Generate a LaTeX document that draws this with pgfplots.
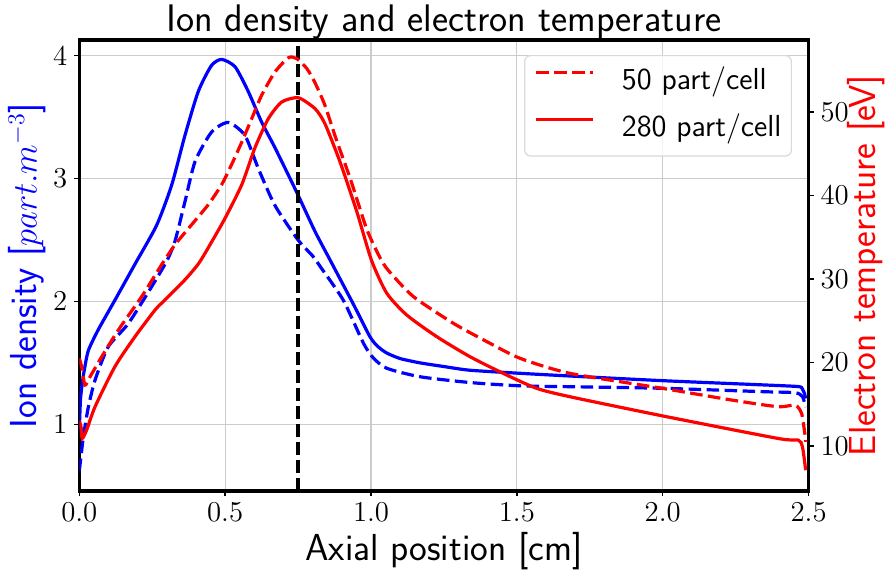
\documentclass[border=0pt]{standalone}
\usepackage{pgfplots}
\pgfplotsset{compat=1.18}
\begin{document}
\begin{tikzpicture}
\pgfplotsset{
 common/.style={
  scale only axis, width=364.65pt, height=225.5pt,
  at={(0,0)}, anchor=south west,
  xmin=0, xmax=2.5,
  tick align=outside, major tick length=2.5pt,
  tick style={black, line width=0.7pt},
  tick label style={font=\fontsize{14.7}{16}\selectfont},
  label style={font=\sffamily\fontsize{18.8}{21}\selectfont},
  axis line style={line width=1.6pt},
  every axis plot/.append style={line width=1.6pt, smooth, tension=0.4},
  mydash/.style={dash pattern=on 6.3pt off 2.7pt},
 }
}
\begin{axis}[common,
  ymin=0.457, ymax=4.128,
  ytick={1,2,3,4}, xtick={0,0.5,1,1.5,2,2.5},
  xtick pos=left, ytick pos=left,
  xticklabel style={/pgf/number format/.cd, fixed, fixed zerofill, precision=1},
  grid=major, grid style={black!20, line width=0.6pt},
  title={Ion density and electron temperature},
  title style={at={(rel axis cs:0.5,1)}, anchor=base, yshift=-1.8pt, inner sep=0pt, font=\sffamily\fontsize{19.2}{21}\selectfont},
  xlabel={Axial position [cm]},
  xlabel style={at={(rel axis cs:0.5,0)}, anchor=base, yshift=-34.5pt, inner sep=0pt},
  ylabel={Ion density [$part.m^{-3}$]},
  ylabel style={at={(rel axis cs:0,0.5)}, anchor=center, yshift=26pt, color=blue, inner sep=0pt},
]
\addplot[blue, no markers] coordinates {
(0.000,0.95) (0.004,1.20) (0.010,1.33) (0.017,1.44) (0.031,1.60) (0.065,1.77) (0.122,2.01) (0.190,2.30) (0.265,2.62) (0.317,2.95) (0.362,3.35) (0.408,3.71) (0.453,3.92) (0.488,3.97) (0.534,3.91) (0.579,3.71) (0.625,3.46) (0.671,3.25) (0.745,2.89) (0.808,2.57) (0.859,2.34) (0.939,1.98) (0.997,1.71) (1.025,1.63) (1.054,1.58) (1.100,1.535) (1.168,1.50) (1.250,1.47) (1.339,1.44) (1.511,1.415) (1.682,1.393) (2.000,1.355) (2.351,1.32) (2.465,1.307) (2.478,1.29) (2.486,1.25) (2.490,1.21)
};
\addplot[blue, mydash, no markers] coordinates {
(0.000,0.62) (0.005,0.72) (0.014,0.90) (0.031,1.14) (0.054,1.36) (0.099,1.63) (0.168,1.82) (0.248,2.12) (0.300,2.33) (0.328,2.49) (0.362,2.81) (0.397,3.14) (0.454,3.38) (0.511,3.457) (0.568,3.35) (0.614,3.08) (0.671,2.78) (0.750,2.50) (0.800,2.37) (0.830,2.27) (0.905,2.01) (0.974,1.66) (1.008,1.54) (1.054,1.456) (1.168,1.387) (1.339,1.34) (1.511,1.313) (1.682,1.306) (2.000,1.293) (2.351,1.265) (2.454,1.257) (2.479,1.225) (2.490,1.14)
};
\addplot[black, mydash, no markers, sharp plot] coordinates {(0.75,0.457) (0.75,4.128)};
\end{axis}
\begin{axis}[common,
  ymin=4.61, ymax=58.62,
  axis y line*=right, axis x line=none,
  ytick={10,20,30,40,50},
  ylabel={Electron temperature [eV]},
  ylabel style={at={(rel axis cs:1,0.5)}, anchor=center, yshift=-28.7pt, color=red, inner sep=0pt},
  legend cell align=left,
  legend image code/.code={\draw[#1, sharp plot] (0pt,5pt) -- (28.5pt,5pt);},
  legend style={at={(rel axis cs:1,1)}, anchor=north east, xshift=-8.3pt, yshift=-7.5pt,
    draw=black!15, line width=0.6pt, rounded corners=3pt, fill=white, fill opacity=0.8, text opacity=1,
    font=\sffamily\fontsize{15.2}{17}\selectfont, inner xsep=5pt, inner ysep=6pt,
    nodes={inner sep=0pt, text height=11pt, text depth=3.7pt},
    row sep=8.8pt,
    /tikz/every odd column/.append style={column sep=13.5pt}},
]
\addplot[red, mydash, no markers] coordinates {
(0.000,20.5) (0.008,19.5) (0.0195,17.3) (0.037,18.3) (0.077,20.7) (0.134,23.9) (0.214,27.9) (0.282,31.7) (0.328,34.1) (0.385,36.5) (0.442,38.9) (0.488,41.3) (0.522,43.7) (0.557,46.4) (0.591,49.2) (0.625,52.0) (0.671,54.8) (0.717,56.5) (0.745,56.4) (0.780,55.2) (0.808,53.5) (0.842,50.8) (0.880,46.8) (0.930,41.9) (0.985,36.0) (1.030,32.6) (1.060,31.0) (1.145,27.9) (1.282,24.7) (1.397,22.5) (1.511,20.5) (1.682,18.7) (2.000,16.9) (2.237,15.5) (2.396,14.7) (2.454,14.9) (2.476,13.9) (2.487,11.5) (2.490,10.5)
};
\addlegendentry{50 part/cell}
\addplot[red, no markers] coordinates {
(0.000,13.0) (0.006,12.3) (0.010,10.9) (0.025,11.9) (0.054,14.7) (0.122,19.5) (0.191,23.1) (0.260,26.3) (0.294,27.5) (0.362,29.9) (0.410,31.9) (0.453,34.4) (0.500,37.3) (0.557,41.3) (0.602,45.7) (0.648,49.2) (0.694,51.2) (0.751,51.7) (0.808,50.4) (0.842,48.6) (0.894,44.0) (0.951,38.1) (1.002,32.2) (1.054,28.3) (1.122,25.7) (1.225,23.1) (1.339,20.7) (1.453,18.7) (1.568,16.9) (1.682,15.9) (2.000,13.6) (2.396,10.9) (2.465,10.7) (2.479,9.9) (2.490,7.1)
};
\addlegendentry{280 part/cell}
\end{axis}
\pgfresetboundingbox
\useasboundingbox (-39.65pt,-39pt) rectangle (407.85pt,245.5pt);
\end{tikzpicture}
\end{document}
